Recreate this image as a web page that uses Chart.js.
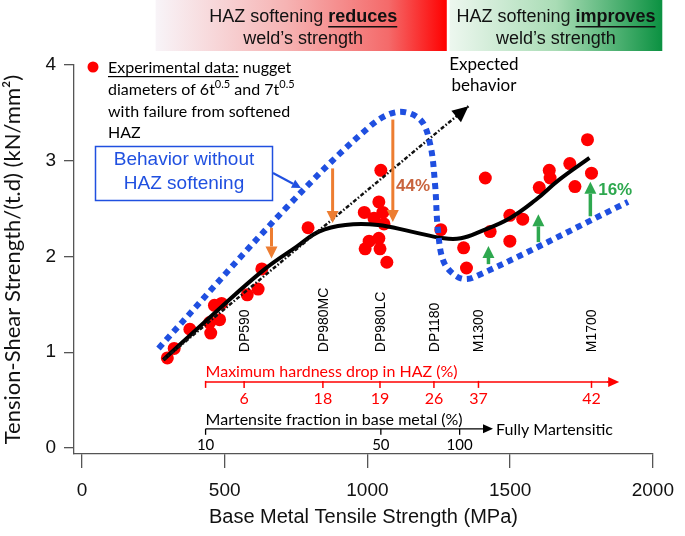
<!DOCTYPE html>
<html><head><meta charset="utf-8">
<script src="https://cdn.jsdelivr.net/npm/chart.js@4.4.0/dist/chart.umd.min.js"></script>
<style>html,body{margin:0;padding:0;background:#fff;}#wrap{width:685px;height:536px;}</style>
</head><body><div id="wrap"><canvas id="c" width="685" height="536"></canvas></div>
<script>
// ---- data ----
const expStrength = [299,323,378,447,451,464,489,482,579,617,630,792,1047,1040,989,1054,1023,1058,1040,1006,992,1044,1068,1257,1337,1347,1413,1430,1499,1499,1544,1602,1637,1640,1709,1727,1771,1785];
const expShear    = [0.94,1.04,1.24,1.31,1.20,1.49,1.51,1.34,1.60,1.66,1.87,2.30,2.90,2.57,2.46,2.46,2.40,2.34,2.19,2.16,2.08,2.08,1.94,2.28,2.09,1.88,2.82,2.26,2.16,2.43,2.39,2.72,2.90,2.82,2.97,2.73,3.22,2.87];
const fitStrength = [285,465,637,751,830,923,1037,1154,1268,1327,1395,1499,1589,1671,1778];
const fitShear    = [0.92,1.41,1.86,2.10,2.26,2.33,2.33,2.26,2.19,2.19,2.26,2.40,2.59,2.80,3.03];
const noSoftStrength = [268,716,1009,1106,1185,1220,1237,1247,1268,1320,1371,1913];
const noSoftShear    = [1.04,2.51,3.36,3.51,3.43,3.17,2.75,2.28,1.94,1.78,1.78,2.57];
const expectedStrength = [285,1354];
const expectedShear    = [0.92,3.57];
const steelGrades   = ['DP590','DP980MC','DP980LC','DP1180','M1300','M1700'];
const steelStrength = [568,844,1044,1233,1389,1785];
const hardnessDrop  = [6,18,19,26,37,42];
const martensitePct      = [10,50,100];
const martensiteStrength = [433,1047,1323];
const reduceStrength = [664,878,1089];
const reduceFrom     = [2.30,2.92,3.43];
const reduceTo       = [1.98,2.35,2.36];
const reduceLabel    = '44%';
const improveStrength = [1424,1599,1781];
const improveFrom     = [1.92,2.15,2.42];
const improveTo       = [2.11,2.44,2.78];
const improveLabel    = '16%';
const xTicks = [0,500,1000,1500,2000];
const yTicks = [0,1,2,3,4];

const pts = (xs, ys) => xs.map((x,i)=>({x:x, y:ys[i]}));
const ARIAL = "'Liberation Sans', Arial, sans-serif";
const CAL = "Lato, 'Liberation Sans', sans-serif";

function arrow(ctx,x1,y1,x2,y2,color,lw,hl,hw){
  ctx.save(); ctx.strokeStyle=color; ctx.fillStyle=color; ctx.lineWidth=lw;
  const a=Math.atan2(y2-y1,x2-x1);
  const bx=x2-hl*Math.cos(a), by=y2-hl*Math.sin(a);
  ctx.beginPath(); ctx.moveTo(x1,y1); ctx.lineTo(bx,by); ctx.stroke();
  ctx.beginPath(); ctx.moveTo(x2,y2);
  ctx.lineTo(bx+hw/2*Math.sin(a), by-hw/2*Math.cos(a));
  ctx.lineTo(bx-hw/2*Math.sin(a), by+hw/2*Math.cos(a));
  ctx.closePath(); ctx.fill(); ctx.restore();
}

const annot = {
  id:'annot',
  afterDatasetsDraw(chart){
    const ctx=chart.ctx, xs=chart.scales.x, ys=chart.scales.y;
    const X=v=>xs.getPixelForValue(v), Y=v=>ys.getPixelForValue(v);
    ctx.save();
    // expected behaviour arrowhead
    {
      const x1=X(expectedStrength[0]),y1=Y(expectedShear[0]),x2=X(expectedStrength[1]),y2=Y(expectedShear[1]);
      const a=Math.atan2(y2-y1,x2-x1), hl=16, hw=15;
      const bx=x2-hl*Math.cos(a), by=y2-hl*Math.sin(a);
      ctx.fillStyle='#000'; ctx.beginPath(); ctx.moveTo(x2,y2);
      ctx.lineTo(bx+hw/2*Math.sin(a), by-hw/2*Math.cos(a));
      ctx.lineTo(bx-hw/2*Math.sin(a), by+hw/2*Math.cos(a)); ctx.closePath(); ctx.fill();
    }
    // arrows
    reduceStrength.forEach((s,i)=>arrow(ctx,X(s),Y(reduceFrom[i]),X(s),Y(reduceTo[i]),'#ed7d31',3,12,12));
    improveStrength.forEach((s,i)=>arrow(ctx,X(s),Y(improveFrom[i]),X(s),Y(improveTo[i]),'#2ea84f',3.5,12,12));
    ctx.textAlign='center'; ctx.textBaseline='middle';
    ctx.font="bold 17px "+ARIAL; ctx.fillStyle='#c8643e';
    ctx.fillText(reduceLabel, X(1160), Y(2.73));
    ctx.fillStyle='#2ea84f';
    ctx.fillText(improveLabel, X(1868), Y(2.69));
    // steel grade labels (rotated)
    ctx.font="14px "+ARIAL; ctx.fillStyle='#000'; ctx.textAlign='left';
    steelGrades.forEach((g,i)=>{
      ctx.save(); ctx.translate(X(steelStrength[i]), Y(1.0)); ctx.rotate(-Math.PI/2);
      ctx.fillText(g,0,1); ctx.restore();
    });
    // hardness drop axis (red)
    const hy=Y(0.69), hx0=X(433), hx1=X(1882);
    ctx.strokeStyle='#ff0000'; ctx.lineWidth=1.5;
    ctx.beginPath(); ctx.moveTo(hx0,hy); ctx.lineTo(hx1-10,hy); ctx.stroke();
    arrow(ctx,hx1-12,hy,hx1,hy,'#ff0000',1.5,11,10);
    [433].concat(steelStrength).forEach(s=>{ctx.beginPath();ctx.moveTo(X(s),hy-1);ctx.lineTo(X(s),hy+6);ctx.stroke();});
    ctx.fillStyle='#ff0000'; ctx.font="16px "+CAL; ctx.textAlign='left';
    ctx.fillText('Maximum hardness drop in HAZ (%)', hx0, hy-10);
    ctx.textAlign='center';
    hardnessDrop.forEach((h,i)=>ctx.fillText(String(h), X(steelStrength[i]), hy+17));
    // martensite axis (black)
    const my=Y(0.20), mx0=X(433), mx1=X(1440);
    ctx.strokeStyle='#000'; ctx.lineWidth=1.3;
    ctx.beginPath(); ctx.moveTo(mx0,my); ctx.lineTo(mx1-8,my); ctx.stroke();
    arrow(ctx,mx1-10,my,mx1,my,'#000',1.3,10,9);
    martensiteStrength.forEach(s=>{ctx.beginPath();ctx.moveTo(X(s),my);ctx.lineTo(X(s),my+6);ctx.stroke();});
    ctx.fillStyle='#000'; ctx.font="16px "+CAL; ctx.textAlign='left';
    ctx.fillText('Martensite fraction in base metal (%)', mx0, my-9);
    ctx.fillText('Fully Martensitic', mx1+3, my+1);
    ctx.textAlign='center'; ctx.font="15px "+CAL;
    martensitePct.forEach((p,i)=>ctx.fillText(String(p), X(martensiteStrength[i]), my+16));
    // Expected behavior text
    ctx.font="17px "+CAL; ctx.fillStyle='#000';
    ctx.fillText('Expected', X(1408), 65);
    ctx.fillText('behavior', X(1408), 86);
    // legend
    ctx.fillStyle='#ff0000'; ctx.beginPath(); ctx.arc(93,67,5.5,0,Math.PI*2); ctx.fill();
    ctx.fillStyle='#000'; ctx.textAlign='left'; ctx.font="16px "+CAL;
    let lx=108;
    ctx.fillText('Experimental data:', lx, 68);
    let w=ctx.measureText('Experimental data:').width;
    ctx.fillRect(lx,76,w,1.2);
    ctx.fillText(' nugget', lx+w, 68);
    let cx=lx; const sup=(t)=>{ctx.font="11px "+CAL; ctx.fillText(t,cx,84); cx+=ctx.measureText(t).width; ctx.font="16px "+CAL;};
    const nor=(t)=>{ctx.fillText(t,cx,90); cx+=ctx.measureText(t).width;};
    nor('diameters of 6t'); sup('0.5'); nor(' and 7t'); sup('0.5');
    ctx.fillText('with failure from softened', lx, 112);
    ctx.fillText('HAZ', lx, 133);
    // Behavior box
    ctx.strokeStyle='#2050e0'; ctx.lineWidth=1.5; ctx.strokeRect(95.5,146.5,177,54);
    ctx.fillStyle='#2050e0'; ctx.font="19px "+ARIAL; ctx.textAlign='center';
    ctx.fillText('Behavior without',184,160); ctx.fillText('HAZ softening',184,184);
    arrow(ctx,273,173,301,188,'#2050e0',2,9,9);
    // header boxes
    const r0=X(258), r1=X(1278), g0=X(1288), g1=X(2033);
    let gr=ctx.createLinearGradient(r0,0,r1,0);
    gr.addColorStop(0,'#f8f4f8'); gr.addColorStop(0.45,'#f6b3b3'); gr.addColorStop(0.8,'#f46a6a'); gr.addColorStop(1,'#ff0000');
    ctx.fillStyle=gr; ctx.fillRect(r0,0,r1-r0,51);
    let gg=ctx.createLinearGradient(g0,0,g1,0);
    gg.addColorStop(0,'#edf7ef'); gg.addColorStop(0.5,'#a9dcb5'); gg.addColorStop(1,'#0b9141');
    ctx.fillStyle=gg; ctx.fillRect(g0,0,g1-g0,51);
    const head=(cxh, word)=>{
      ctx.textAlign='left'; ctx.fillStyle='#111';
      ctx.font="18px "+ARIAL; const a='HAZ softening '; const wa=ctx.measureText(a).width;
      ctx.font="bold 18px "+ARIAL; const wb=ctx.measureText(word).width;
      const sx=cxh-(wa+wb)/2;
      ctx.font="18px "+ARIAL; ctx.fillText(a,sx,17);
      ctx.font="bold 18px "+ARIAL; ctx.fillText(word,sx+wa,17); ctx.fillRect(sx+wa,26,wb,1.5);
      ctx.font="18px "+ARIAL; ctx.textAlign='center'; ctx.fillText('weld\u2019s strength',cxh,39);
    };
    head((r0+r1)/2+2,'reduces'); head((g0+g1)/2,'improves');
    ctx.restore();
  }
};

new Chart(document.getElementById('c'), {
  type:'scatter',
  data:{datasets:[
    {data:pts(noSoftStrength,noSoftShear), showLine:true, borderColor:'#1f4fe0', borderWidth:6, borderDash:[6,5], borderCapStyle:'butt', pointRadius:0, tension:0.35, fill:false},
    {data:pts(expectedStrength,expectedShear), showLine:true, borderColor:'#111', borderWidth:2.5, borderDash:[4,2,1.5,2], pointRadius:0, fill:false},
    {data:pts(fitStrength,fitShear), showLine:true, borderColor:'#000', borderWidth:4, pointRadius:0, tension:0.4, fill:false},
    {data:pts(expStrength,expShear), showLine:false, pointRadius:6.5, pointBackgroundColor:'#ff0000', pointBorderColor:'#ff0000', pointBorderWidth:0}
  ]},
  options:{
    responsive:false, animation:false, devicePixelRatio:1,
    layout:{padding:{top:65,right:22,left:0,bottom:0}},
    plugins:{legend:{display:false}, tooltip:{enabled:false}},
    scales:{
      x:{type:'linear', min:-28, max:2000,
        afterBuildTicks:s=>{s.ticks=xTicks.map(v=>({value:v}));},
        afterFit:s=>{s.height=82;},
        grid:{drawOnChartArea:false, drawTicks:true, tickLength:14, color:'#555', lineWidth:1.3},
        border:{color:'#555', width:1.3},
        ticks:{font:{family:ARIAL,size:19}, color:'#111', padding:11, maxRotation:0, autoSkip:false, callback:v=>String(v)},
        title:{display:true, text:'Base Metal Tensile Strength (MPa)', font:{family:ARIAL,size:20}, color:'#111', padding:{top:0,bottom:7}}
      },
      y:{type:'linear', min:-0.063, max:4,
        afterBuildTicks:s=>{s.ticks=yTicks.map(v=>({value:v}));},
        afterFit:s=>{s.width=74;},
        grid:{drawOnChartArea:false, drawTicks:true, tickLength:10, color:'#555', lineWidth:1.3},
        border:{color:'#555', width:1.3},
        ticks:{font:{family:ARIAL,size:19}, color:'#111', padding:8, autoSkip:false, callback:v=>String(v)},
        title:{display:true, text:'Tension-Shear Strength/(t.d) (kN/mm\u00b2)', font:{family:CAL,size:22}, color:'#111', padding:{top:0,bottom:0}}
      }
    }
  },
  plugins:[annot]
});
</script></body></html>
